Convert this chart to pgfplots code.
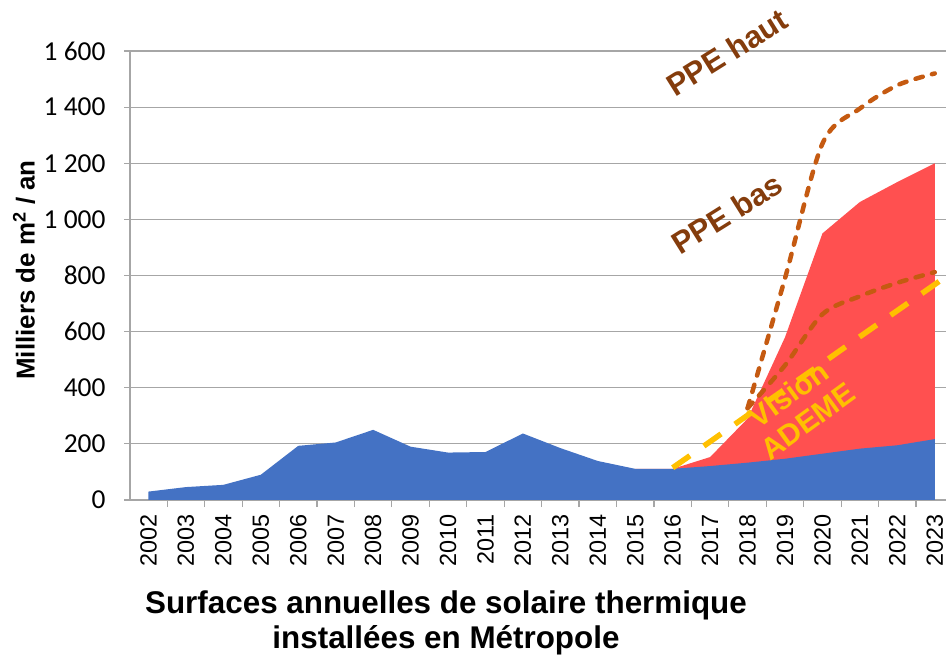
\documentclass[border=0pt]{standalone}
\usepackage{fontspec}
\setmainfont{Liberation Sans}
\newfontfamily\carlito{Carlito}
\usepackage{pgfplots}
\pgfplotsset{compat=1.18}
\definecolor{cblue}{HTML}{4472C4}
\definecolor{cred}{HTML}{FF5050}
\definecolor{cbrown}{HTML}{C55A11}
\definecolor{ctext}{HTML}{843C0C}
\definecolor{cyel}{HTML}{FFC000}
\definecolor{cgrid}{HTML}{A6A6A6}
\begin{document}
\begin{tikzpicture}
\useasboundingbox (0,0) rectangle (946bp,656bp);
\begin{axis}[
  at={(130bp,156bp)}, anchor=south west,
  scale only axis, width=816bp, height=449bp,
  xmin=-0.494, xmax=21.3, ymin=0, ymax=1600,
  clip=false,
  axis x line*=bottom, axis y line*=left,
  axis line style={cgrid, line width=1.2bp},
  xtick={0,...,21},
  xticklabels={2002,2003,2004,2005,2006,2007,2008,2009,2010,2011,2012,2013,2014,2015,2016,2017,2018,2019,2020,2021,2022,2023},
  major x tick style={draw=none},
  minor xtick={-0.5,0.5,...,21.5},
  minor x tick style={cgrid, line width=1.2bp},
  minor tick length=7bp,
  xticklabel style={rotate=90, anchor=east, font=\fontsize{23.5}{23.5}\selectfont},
  xticklabel shift={5bp},
  ytick={0,200,...,1600},
  yticklabels={0,200,400,600,800,1 000,1 200,1 400,1 600},
  yticklabel style={font=\carlito\fontsize{27.5}{27.5}\selectfont},
  yticklabel shift={15bp},
  major tick length=6bp,
  tick align=outside,
  y tick style={cgrid, line width=1.2bp},
  ymajorgrids, grid style={cgrid, line width=1.2bp},
  ylabel={\bfseries Milliers de m\textsuperscript{2} / an},
  ylabel style={font=\fontsize{26}{26}\selectfont, at={(-106bp,230bp)}, anchor=center, rotate=0},
]
\addplot[fill=cred, draw=none] coordinates {
(13,111) (14,111) (15,153) (16,290) (17,580) (18,950) (19,1062) (20,1133) (21,1200)
} \closedcycle;
\addplot[fill=cblue, draw=none] coordinates {
(0,30) (1,46) (2,54) (3,90) (4,193) (5,205) (6,250) (7,190) (8,169) (9,171) (10,237) (11,185) (12,139) (13,111) (14,111) (15,121) (16,133) (17,147) (18,165) (19,183) (20,195) (21,217)
} \closedcycle;
\addplot[cbrown, line width=4.5bp, line cap=round, dash pattern=on 7.5bp off 9.5bp, smooth, tension=0.5] coordinates {
(16,327) (17,790) (18,1270) (19,1395) (20,1478) (21,1520)
};
\addplot[cbrown, line width=4.5bp, line cap=round, dash pattern=on 7.5bp off 9.5bp, smooth, tension=0.5] coordinates {
(16,327) (17,480) (18,662) (19,726) (20,774) (21,812)
};
\addplot[cyel, line width=5.5bp, dash pattern=on 21bp off 17bp] coordinates {
(14,115) (15,208) (16,302) (17,395) (18,488) (19,582) (20,675) (21,768) (21.22,789)
};
\node[ctext, rotate=32, font=\bfseries\fontsize{31}{31}\selectfont] at (axis cs:15.45,1595) {PPE haut};
\node[ctext, rotate=32, font=\bfseries\fontsize{31}{31}\selectfont] at (axis cs:15.45,1020) {PPE bas};
\node[cyel, rotate=36, align=center, font=\bfseries\fontsize{30}{33}\selectfont] at (axis cs:17.35,330) {Vision\\ADEME};
\end{axis}
\node[align=center, font=\bfseries\fontsize{31.5}{35}\selectfont] at (446bp,33bp) {Surfaces annuelles de solaire thermique\\installées en Métropole};
\end{tikzpicture}
\end{document}
